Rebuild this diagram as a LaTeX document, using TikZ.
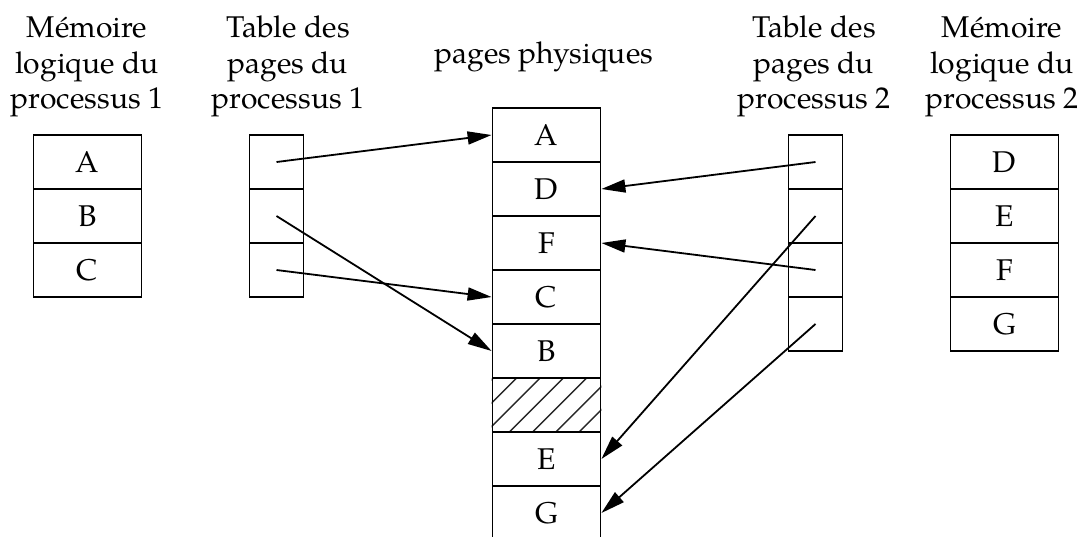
\documentclass[tikz,border=0pt]{standalone}
\usepackage{fontspec}
\setmainfont{TeX Gyre Pagella}
\usetikzlibrary{arrows.meta}
\begin{document}
\begin{tikzpicture}[x=0.5pt,y=-0.5pt,
  cellw/.style={draw,line width=0.9pt,minimum width=54pt,minimum height=27pt,inner sep=0pt,font=\fontsize{15}{18}\selectfont},
  celln/.style={draw,line width=0.9pt,minimum width=27pt,minimum height=27pt,inner sep=0pt},
  ttl/.style={anchor=base,inner sep=0pt,font=\fontsize{15}{18}\selectfont},
  arr/.style={line width=0.9pt,-{Triangle[length=12pt,width=6.5pt]}}]
\useasboundingbox (0,0) rectangle (1081,536);
% titles
\node[ttl] (t1a) at (87,37) {Mémoire};
\node[ttl] (t1b) at (87,73) {logique du};
\node[ttl] (t1c) at (87,108) {processus 1};
\node[ttl] (t2a) at (288,37) {Table des};
\node[ttl] (t2b) at (288,73) {pages du};
\node[ttl] (t2c) at (288,108) {processus 1};
\node[ttl] (t3) at (544,63) {pages physiques};
\node[ttl] (t4a) at (814,37) {Table des};
\node[ttl] (t4b) at (814,73) {pages du};
\node[ttl] (t4c) at (814,108) {processus 2};
\node[ttl] (t5a) at (1002,37) {Mémoire};
\node[ttl] (t5b) at (1002,73) {logique du};
\node[ttl] (t5c) at (1002,108) {processus 2};
% logical memory 1
\node[cellw] (m1a) at (87.5,162) {A};
\node[cellw] (m1b) at (87.5,216) {B};
\node[cellw] (m1c) at (87.5,270) {C};
% page table 1
\node[celln] (p1a) at (276.5,162) {};
\node[celln] (p1b) at (276.5,216) {};
\node[celln] (p1c) at (276.5,270) {};
% physical pages
\node[cellw] (phA) at (546.5,135) {A};
\node[cellw] (phD) at (546.5,189) {D};
\node[cellw] (phF) at (546.5,243) {F};
\node[cellw] (phC) at (546.5,297) {C};
\node[cellw] (phB) at (546.5,351) {B};
\node[cellw] (phX) at (546.5,405) {};
\node[cellw] (phE) at (546.5,459) {E};
\node[cellw] (phG) at (546.5,513) {G};
\begin{scope}
  \clip (phX.south west) rectangle (phX.north east);
  \foreach \k in {-3,...,5} {
    \draw[line width=0.7pt,black!85] (462.7+23.3*\k,432) -- (516.7+23.3*\k,378);
  }
\end{scope}
\node[cellw] (phX2) at (546.5,405) {};
% page table 2
\node[celln] (p2a) at (815.5,162) {};
\node[celln] (p2b) at (815.5,216) {};
\node[celln] (p2c) at (815.5,270) {};
\node[celln] (p2d) at (815.5,324) {};
% logical memory 2
\node[cellw] (m2a) at (1004.5,162) {D};
\node[cellw] (m2b) at (1004.5,216) {E};
\node[cellw] (m2c) at (1004.5,270) {F};
\node[cellw] (m2d) at (1004.5,324) {G};
% arrows
\draw[arr] (p1a.center) -- (phA.west);
\draw[arr] (p1b.center) -- (phB.west);
\draw[arr] (p1c.center) -- (phC.west);
\draw[arr] (p2a.center) -- (phD.east);
\draw[arr] (p2b.center) -- (phE.east);
\draw[arr] (p2c.center) -- (phF.east);
\draw[arr] (p2d.center) -- (phG.east);
\end{tikzpicture}
\end{document}
